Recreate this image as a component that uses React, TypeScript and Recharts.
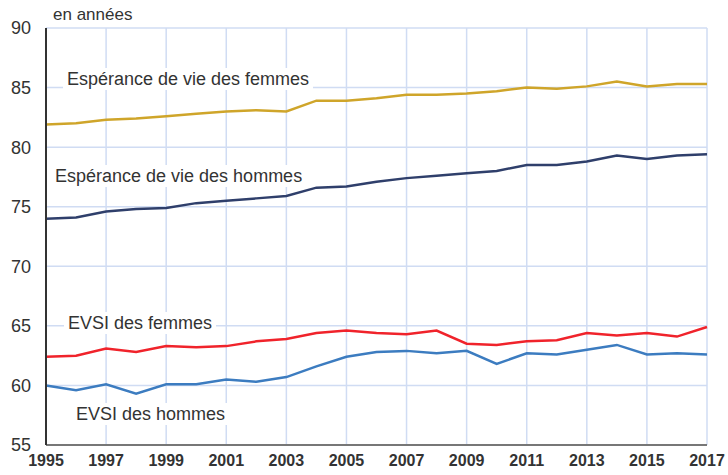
import { LineChart, Line, XAxis, YAxis, CartesianGrid } from "recharts";

const years = [
	1995, 1996, 1997, 1998, 1999, 2000, 2001, 2002, 2003, 2004, 2005, 2006,
	2007, 2008, 2009, 2010, 2011, 2012, 2013, 2014, 2015, 2016, 2017,
];
const evFemmes = [
	81.9, 82.0, 82.3, 82.4, 82.6, 82.8, 83.0, 83.1, 83.0, 83.9, 83.9, 84.1,
	84.4, 84.4, 84.5, 84.7, 85.0, 84.9, 85.1, 85.5, 85.1, 85.3, 85.3,
];
const evHommes = [
	74.0, 74.1, 74.6, 74.8, 74.9, 75.3, 75.5, 75.7, 75.9, 76.6, 76.7, 77.1,
	77.4, 77.6, 77.8, 78.0, 78.5, 78.5, 78.8, 79.3, 79.0, 79.3, 79.4,
];
const evsiFemmes = [
	62.4, 62.5, 63.1, 62.8, 63.3, 63.2, 63.3, 63.7, 63.9, 64.4, 64.6, 64.4,
	64.3, 64.6, 63.5, 63.4, 63.7, 63.8, 64.4, 64.2, 64.4, 64.1, 64.9,
];
const evsiHommes = [
	60.0, 59.6, 60.1, 59.3, 60.1, 60.1, 60.5, 60.3, 60.7, 61.6, 62.4, 62.8,
	62.9, 62.7, 62.9, 61.8, 62.7, 62.6, 63.0, 63.4, 62.6, 62.7, 62.6,
];
const xTicks = [1995, 1997, 1999, 2001, 2003, 2005, 2007, 2009, 2011, 2013, 2015, 2017];
const yTicks = [55, 60, 65, 70, 75, 80, 85, 90];

const data = years.map((y, i) => ({
	year: y,
	evF: evFemmes[i],
	evH: evHommes[i],
	evsiF: evsiFemmes[i],
	evsiH: evsiHommes[i],
}));

const font = "'Liberation Sans', Arial, sans-serif";

const labelStyle = (left: number, top: number) => ({
	position: "absolute" as const,
	left,
	top,
	background: "#fff",
	padding: "0 4px",
	fontFamily: font,
	fontSize: 18,
	color: "#333",
	lineHeight: "22px",
	whiteSpace: "nowrap" as const,
});

const App = () => {
	return (
		<div style={{ position: "absolute", left: 0, top: 0, width: 728, height: 475, background: "#fff" }}>
			<LineChart
				width={728}
				height={475}
				data={data}
				margin={{ top: 28, right: 21, left: 0, bottom: 0 }}>
				<CartesianGrid stroke="#d0dcf3" strokeWidth={1.5} />
				<XAxis
					dataKey="year"
					type="number"
					domain={[1995, 2017]}
					ticks={xTicks}
					height={30}
					tickLine={false}
					tickSize={0}
					tickMargin={10}
					axisLine={{ stroke: "#777", strokeWidth: 2 }}
					tick={{ fill: "#333", fontSize: 16, fontFamily: font, fontWeight: "bold" }}
					interval={0}
				/>
				<YAxis
					type="number"
					domain={[55, 90]}
					ticks={yTicks}
					width={46}
					tickLine={false}
					tickSize={0}
					tickMargin={15}
					axisLine={{ stroke: "#333", strokeWidth: 2 }}
					tick={{ fill: "#333", fontSize: 18, fontFamily: font }}
					interval={0}
				/>
				<Line type="linear" dataKey="evF" stroke="#cfa52a" strokeWidth={2.5} dot={false} isAnimationActive={false} />
				<Line type="linear" dataKey="evH" stroke="#2f3f6b" strokeWidth={2.5} dot={false} isAnimationActive={false} />
				<Line type="linear" dataKey="evsiF" stroke="#f0232b" strokeWidth={2.5} dot={false} isAnimationActive={false} />
				<Line type="linear" dataKey="evsiH" stroke="#3c7cc0" strokeWidth={2.5} dot={false} isAnimationActive={false} />
			</LineChart>
			<div style={{ ...labelStyle(49, 4), background: "transparent", fontSize: 17 }}>en années</div>
			<div style={labelStyle(63, 68)}>Espérance de vie des femmes</div>
			<div style={labelStyle(51, 165)}>Espérance de vie des hommes</div>
			<div style={labelStyle(64, 312)}>EVSI des femmes</div>
			<div style={labelStyle(72, 403)}>EVSI des hommes</div>
		</div>
	);
};

export default App;
